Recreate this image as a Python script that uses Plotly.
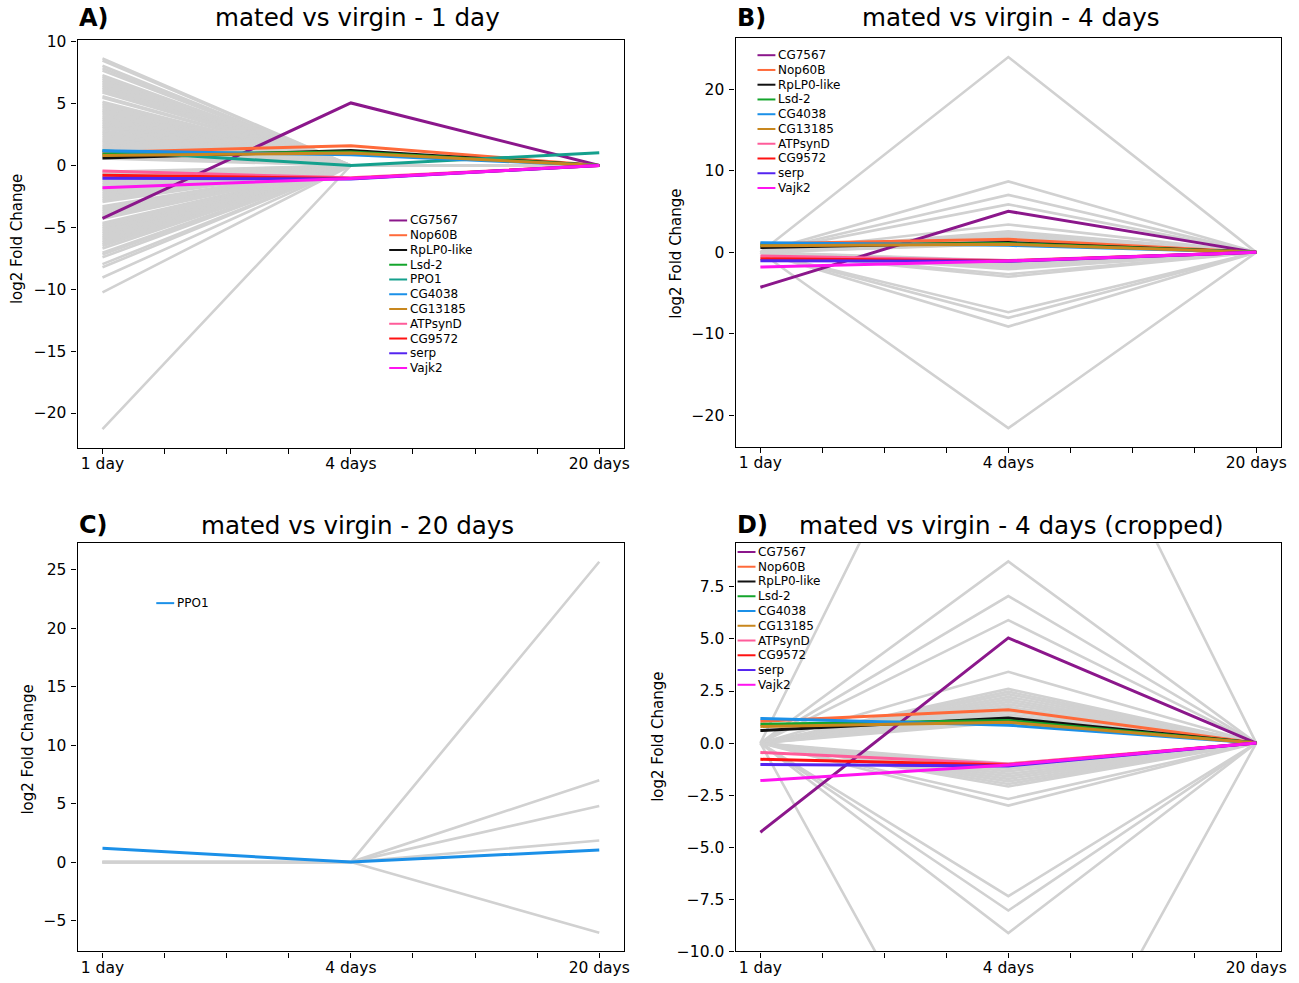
import plotly.graph_objects as go

# ---------------------------------------------------------------------------
# Data
# ---------------------------------------------------------------------------
timepoints = ["1 day", "4 days", "20 days"]
x_pos = [0, 1, 2]

# highlighted genes (log2 fold change, mated vs virgin)
genes = ["CG7567", "Nop60B", "RpLP0-like", "Lsd-2", "PPO1", "CG4038",
         "CG13185", "ATPsynD", "CG9572", "serp", "Vajk2"]
fc_1day = [-4.28, 1.05, 0.60, 0.90, 1.18, 1.18, 0.80, -0.45, -0.78, -1.03, -1.80]
fc_4days = [5.05, 1.60, 1.20, 1.08, 0.00, 0.86, 1.00, -1.00, -1.05, -1.10, -1.05]
fc_20days = [0.00, 0.00, 0.00, 0.00, 1.03, 0.00, 0.00, 0.00, 0.00, 0.00, 0.00]
gene_colors = ["#8b178b", "#ff6a3a", "#111111", "#14a52c", "#15a08d", "#1b90e8",
               "#c8871e", "#ff5c9a", "#ff1212", "#5424f0", "#ff14f0"]
ppo1_color_20d = "#1b90e8"

# other DE genes at 1 day (values at 4 and 20 days are 0)
other_1day = [8.65, 8.47, 8.05, 7.86, 7.66,
              7.30, 7.16, 7.02, 6.87, 6.73, 6.58, 6.44, 6.30, 6.15, 6.01, 5.90,
              5.60, 5.47,
              5.15, 5.01, 4.86, 4.72, 4.57, 4.43, 4.30, 4.15, 4.00, 3.86, 3.71,
              3.57, 3.43, 3.28, 3.14, 3.00, 2.85, 2.71, 2.57, 2.42, 2.28, 2.13,
              1.99, 1.85, 1.70, 1.56, 1.42, 1.27, 1.13, 0.99, 0.85, 0.70, 0.56,
              -0.52, -0.66, -0.80, -0.95, -1.09, -1.23, -1.38, -1.52, -1.66,
              -1.81, -1.95, -2.09, -2.24, -2.38, -2.52, -2.67, -2.81, -2.95,
              -3.30, -3.44, -3.58, -3.72, -3.87, -4.01, -4.15, -4.30,
              -4.65, -4.79, -4.93, -5.08, -5.22, -5.36, -5.50, -5.65, -5.79,
              -5.93, -6.08, -6.22, -6.36, -6.50, -6.70,
              -7.05, -7.20, -7.42,
              -7.97, -8.22, -9.05, -10.25, -21.30]

# other DE genes at 4 days (values at 1 and 20 days are 0)
other_4days = [24.00, 8.72, 7.06, 5.90, 3.42,
               2.60, 2.47, 2.35, 2.22, 2.10, 1.98, 1.86, 1.74, 1.62, 1.50,
               1.38, 1.26, 1.14, 1.02,
               -1.00, -1.12, -1.24, -1.36, -1.48, -1.60, -1.72, -1.84, -1.96, -2.08,
               -2.68, -3.00, -7.35, -8.04, -9.12, -21.60]

# other DE genes at 20 days (values at 1 and 4 days are 0)
other_20days = [25.70, 7.00, 4.80, 1.85, -6.05]

# ---------------------------------------------------------------------------
# Layout helpers (figure is 1299 x 983 px, zero margins)
# ---------------------------------------------------------------------------
W, H = 1299, 983
FONT = "DejaVu Sans"
GRAY = "#d1d1d1"


def px(x):
    return x / W


def py(y):
    return 1 - y / H


panels = {
    # name: (left, right, top, bottom) in pixels, y-range, dtick, tickformat
    "A": dict(box=(78, 627, 34, 448), yr=[-22.8, 10.1], dtick=5, fmt="d"),
    "B": dict(box=(739, 1287, 32, 447), yr=[-23.88, 26.28], dtick=10, fmt="d"),
    "C": dict(box=(78, 627, 545, 960), yr=[-7.64, 27.29], dtick=5, fmt="d"),
    "D": dict(box=(739, 1287, 545, 960), yr=[-10.0, 9.6], dtick=2.5, fmt=".1f"),
}
axis_ids = {"A": ("x", "y"), "B": ("x2", "y2"), "C": ("x3", "y3"), "D": ("x4", "y4")}

fig = go.Figure()


def background_lines(values, slot, panel):
    """One gray trace holding every non-highlighted gene, separated by gaps."""
    xs, ys = [], []
    for v in values:
        prof = [0.0, 0.0, 0.0]
        prof[slot] = v
        xs += x_pos + [None]
        ys += prof + [None]
    xa, ya = axis_ids[panel]
    fig.add_trace(go.Scatter(x=xs, y=ys, mode="lines", xaxis=xa, yaxis=ya,
                             line=dict(color=GRAY, width=2.6),
                             hoverinfo="skip", showlegend=False))


def gene_line(i, panel, color=None, width=3):
    xa, ya = axis_ids[panel]
    fig.add_trace(go.Scatter(x=x_pos, y=[fc_1day[i], fc_4days[i], fc_20days[i]],
                             mode="lines", name=genes[i], xaxis=xa, yaxis=ya,
                             line=dict(color=color or gene_colors[i], width=width),
                             showlegend=False))


# Panel A: genes DE at 1 day
background_lines(other_1day, 0, "A")
for i in range(len(genes)):
    gene_line(i, "A")

# Panels B and D: genes DE at 4 days (D is a zoomed copy)
for p in ("B", "D"):
    background_lines(other_4days, 1, p)
    for i, g in enumerate(genes):
        if g != "PPO1":
            gene_line(i, p)

# Panel C: genes DE at 20 days
background_lines(other_20days, 2, "C")
gene_line(genes.index("PPO1"), "C", color=ppo1_color_20d)

# ---------------------------------------------------------------------------
# Axes
# ---------------------------------------------------------------------------
tick_vals = [0, 0.25, 0.5, 0.75, 1, 1.25, 1.5, 1.75, 2]
tick_text = [timepoints[0], "", "", "", timepoints[1], "", "", "", timepoints[2]]

layout_axes = {}
for name, cfg in panels.items():
    l, r, t, b = cfg["box"]
    xa, ya = axis_ids[name]
    xkey = "xaxis" + xa[1:]
    ykey = "yaxis" + ya[1:]
    common = dict(showline=True, linecolor="black", linewidth=1.3, mirror=True,
                  ticks="outside", ticklen=5, tickwidth=1, tickcolor="black",
                  showgrid=False, zeroline=False,
                  tickfont=dict(family=FONT, size=15.5, color="black"))
    layout_axes[xkey] = dict(domain=[px(l), px(r)], range=[-0.1, 2.1],
                             tickmode="array", tickvals=tick_vals, ticktext=tick_text,
                             ticklabelstandoff=-3, anchor=ya, **common)
    layout_axes[ykey] = dict(domain=[py(b), py(t)], range=cfg["yr"],
                             dtick=cfg["dtick"], tick0=0, tickformat=cfg["fmt"],
                             ticklabelstandoff=2, anchor=xa, **common)

fig.update_layout(width=W, height=H, margin=dict(l=0, r=0, t=0, b=0),
                  paper_bgcolor="white", plot_bgcolor="white",
                  font=dict(family=FONT, color="black"), showlegend=False,
                  **layout_axes)

# ---------------------------------------------------------------------------
# Titles, panel letters, y labels
# ---------------------------------------------------------------------------
titles = {
    # letter, title, title centre y, title centre x offset
    "A": ("A)", "mated vs virgin - 1 day", 11, 7),
    "B": ("B)", "mated vs virgin - 4 days", 11, 3),
    "C": ("C)", "mated vs virgin - 20 days", 527, 7),
    "D": ("D)", "mated vs virgin - 4 days (cropped)", 527, 3),
}
ylabel_pos = {"A": (17, 236), "B": (679, 251), "C": (28, 755), "D": (661, 742)}
for name, (letter, title, ty, dx) in titles.items():
    l, r, t, b = panels[name]["box"]
    fig.add_annotation(text=title, x=px((l + r) / 2 + dx), y=py(ty), xref="paper",
                       yref="paper", xanchor="center", yanchor="middle", showarrow=False,
                       font=dict(family=FONT, size=24.6, color="black"))
    fig.add_annotation(text="<b>" + letter + "</b>", x=px(l - 1), y=py(ty), xref="paper",
                       yref="paper", xanchor="left", yanchor="middle", showarrow=False,
                       font=dict(family=FONT, size=24, color="black"))
    lx, ly = ylabel_pos[name]
    fig.add_annotation(text="log2 Fold Change", x=px(lx), y=py(ly),
                       xref="paper", yref="paper", xanchor="center", yanchor="middle",
                       textangle=-90, showarrow=False,
                       font=dict(family=FONT, size=15, color="black"))

# ---------------------------------------------------------------------------
# Legends
# ---------------------------------------------------------------------------
def legend(entries, x_left, y_first, step=15.0):
    for k, (label, color) in enumerate(entries):
        y = y_first + k * step
        fig.add_shape(type="line", xref="paper", yref="paper",
                      x0=px(x_left), x1=px(x_left + 18), y0=py(y), y1=py(y),
                      line=dict(color=color, width=2))
        fig.add_annotation(text=label, x=px(x_left + 19), y=py(y), xref="paper",
                           yref="paper", xanchor="left", yanchor="middle",
                           showarrow=False, font=dict(family=FONT, size=12, color="black"))


all_entries = list(zip(genes, gene_colors))
no_ppo1 = [e for e in all_entries if e[0] != "PPO1"]
legend(all_entries, 391, 217)
legend(no_ppo1, 761, 49)
legend([("PPO1", ppo1_color_20d)], 157, 606)
legend(no_ppo1, 741, 554)

fig.write_html("out.html")
